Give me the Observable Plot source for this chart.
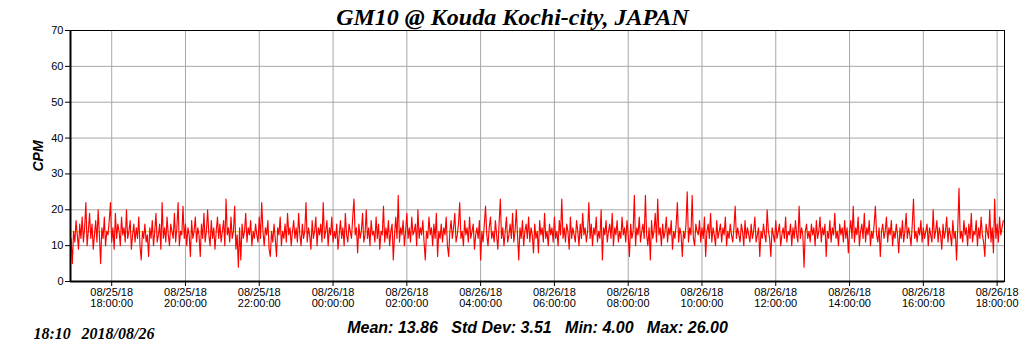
<!DOCTYPE html>
<html>
<head>
<meta charset="utf-8">
<script src="https://cdn.jsdelivr.net/npm/d3@7"></script>
<script src="https://cdn.jsdelivr.net/npm/@observablehq/plot@0.6"></script>
<style>
  body { margin: 0; background: #fff; }
</style>
</head>
<body>
<div id="chart"></div>
<script>
// ---- data ----
const startTime = "2018-08-25T16:54:00Z";   // first sample
const stepMinutes = 2;                        // sample spacing
const cpm = [
  12,5,14,11,17,13,9,16,12,18,11,15,22,10,14,19,12,16,9,13,17,11,20,13,5,15,12,18,10,14,
  13,17,22,11,15,9,19,12,16,14,10,18,13,15,11,20,12,14,17,9,13,16,11,15,12,18,10,6,14,12,
  16,11,13,7,15,12,17,10,14,19,11,13,16,9,22,12,15,11,18,13,10,16,14,12,19,11,15,22,10,14,
  13,21,12,16,10,15,13,7,17,12,14,18,11,15,13,7,16,12,19,11,14,20,13,10,17,12,15,9,14,18,
  12,16,11,14,17,10,23,13,15,11,18,12,14,21,9,13,4,15,6,16,12,14,19,11,15,13,17,10,14,12,
  16,13,11,18,12,22,14,10,15,13,17,9,7,14,11,16,12,7,15,13,18,10,14,12,16,11,19,13,15,10,
  14,17,12,15,11,19,13,10,16,12,14,22,11,15,13,9,17,12,14,18,10,15,13,16,11,22,12,14,17,10,
  15,13,18,11,14,12,16,9,13,17,12,15,10,19,13,11,16,14,12,18,23,13,15,8,16,12,14,19,11,13,
  20,12,15,10,17,13,14,11,18,12,16,9,14,13,21,11,15,12,17,10,14,16,6,13,18,12,24,11,15,13,
  17,10,14,19,12,15,11,18,13,14,16,10,20,12,15,13,17,11,6,14,12,18,13,15,10,16,12,19,7,14,
  12,16,11,15,13,18,10,7,14,17,12,15,19,11,13,16,22,12,14,10,17,13,15,11,18,12,14,16,9,13,
  15,12,17,6,14,11,16,21,13,10,15,18,12,14,11,17,13,9,16,23,12,15,10,14,18,11,13,16,12,19,
  11,14,20,13,6,15,12,17,10,14,16,12,18,11,15,13,8,16,12,14,8,17,13,15,11,19,12,14,10,16,
  13,15,11,18,12,14,10,17,13,23,12,15,11,16,14,9,18,12,15,13,11,17,14,10,16,12,19,13,15,11,
  14,22,12,16,10,15,13,18,11,14,12,20,6,15,13,17,11,14,16,12,19,10,15,13,17,11,14,12,18,13,
  15,11,17,13,7,16,12,14,24,10,15,13,18,11,14,16,12,24,13,10,15,6,17,12,14,19,11,23,13,15,
  10,16,12,14,18,11,15,13,17,9,14,12,16,22,11,15,13,7,14,12,16,25,11,15,13,24,12,10,16,14,
  13,17,11,15,12,18,7,14,16,12,19,11,15,13,10,17,12,14,16,11,15,13,18,10,14,12,16,13,11,15,
  21,12,15,13,11,16,14,10,17,12,15,13,11,16,12,14,18,11,13,15,7,14,12,16,13,11,20,14,12,7,
  15,13,11,17,12,14,16,10,13,15,12,18,11,14,13,16,10,15,12,17,13,11,21,12,15,13,4,14,16,12,
  14,11,16,13,15,10,17,12,14,18,11,15,13,16,7,14,12,17,11,15,13,19,12,14,10,16,13,15,11,17,
  12,15,8,14,17,12,21,11,15,13,18,10,14,16,12,19,11,15,13,17,10,14,12,16,21,13,11,15,7,14,
  16,12,14,18,11,15,13,17,10,14,12,16,13,8,15,12,17,11,14,19,12,15,13,10,16,23,12,14,11,15,
  13,17,11,15,12,14,16,10,15,13,11,20,12,14,17,11,15,13,9,16,12,14,18,11,15,13,10,17,12,14,
  6,15,26,12,14,11,17,13,15,10,16,12,19,11,14,13,17,10,15,12,18,13,11,7,16,14,12,20,11,15,
  8,23,12,16,11,18,13,15,17
];
const domainStart = "2018-08-25T16:53:00Z";
const domainEnd   = "2018-08-26T18:12:00Z";
const tickTimes = [
  "2018-08-25T18:00:00Z","2018-08-25T20:00:00Z","2018-08-25T22:00:00Z",
  "2018-08-26T00:00:00Z","2018-08-26T02:00:00Z","2018-08-26T04:00:00Z",
  "2018-08-26T06:00:00Z","2018-08-26T08:00:00Z","2018-08-26T10:00:00Z",
  "2018-08-26T12:00:00Z","2018-08-26T14:00:00Z","2018-08-26T16:00:00Z",
  "2018-08-26T18:00:00Z"
];
const yTicks = [0, 10, 20, 30, 40, 50, 60, 70];
const titleText = "GM10 @ Kouda Kochi-city, JAPAN";
const yLabel = "CPM";
const stampTime = "18:10";
const stampDate = "2018/08/26";
const statLabels = ["Mean", "Std Dev", "Min", "Max"];
const statValues = [13.86, 3.51, 4.00, 26.00];

// ---- build ----
const t0 = new Date(startTime);
const data = cpm.map((v, i) => ({ t: new Date(+t0 + i * stepMinutes * 60000), v }));
const ticks = tickTimes.map(d => new Date(d));
const fmt = d3.utcFormat("%m/%d/%y\n%H:%M:%S");
const statsText = statLabels.map((l, i) => `${l}: ${statValues[i].toFixed(2)}`).join("\u00a0\u00a0\u00a0");
const serif = "'Liberation Serif', 'Times New Roman', serif";
const sans = "'Liberation Sans', Arial, sans-serif";

const chart = Plot.plot({
  width: 1024,
  height: 351,
  marginTop: 30,
  marginBottom: 70,
  marginLeft: 70,
  marginRight: 20,
  style: { fontFamily: sans, fontSize: "11px", color: "#000", background: "#fff", overflow: "visible" },
  x: {
    type: "utc",
    domain: [new Date(domainStart), new Date(domainEnd)],
    ticks,
    tickFormat: fmt,
    tickSize: 5,
    tickPadding: 2,
    label: null
  },
  y: { domain: [0, 70], ticks: yTicks, tickSize: 5, tickPadding: 2, label: null },
  marks: [
    Plot.ruleX(ticks, { stroke: "#a8a8a8" }),
    Plot.ruleY(yTicks, { stroke: "#a8a8a8" }),
    Plot.ruleY([statValues[0]], { stroke: "#f0c000" }),
    Plot.line(data, { x: "t", y: "v", stroke: "#ff0000", strokeWidth: 1.15 }),
    Plot.frame({ stroke: "#000" }),
    Plot.ruleX([new Date(domainStart)], { stroke: "#000", strokeWidth: 2 }),
    Plot.ruleY([0], { stroke: "#000", strokeWidth: 2 }),
    Plot.text([titleText], { text: d => d, frameAnchor: "top", dx: -25, dy: -13, lineAnchor: "middle", textAnchor: "middle",
      fontFamily: serif, fontSize: 24, fontWeight: "bold", fontStyle: "italic", fill: "#000" }),
    Plot.text([yLabel], { text: d => d, frameAnchor: "left", dx: -32, rotate: -90, lineAnchor: "middle", textAnchor: "middle",
      fontFamily: sans, fontSize: 14, fontWeight: "bold", fontStyle: "italic", fill: "#000" }),
    Plot.text([stampTime], { text: d => d, frameAnchor: "bottom-left", dx: -37, dy: 52, textAnchor: "start", lineAnchor: "middle",
      fontFamily: serif, fontSize: 16, fontWeight: "bold", fontStyle: "italic", fill: "#000" }),
    Plot.text([stampDate], { text: d => d, frameAnchor: "bottom-left", dx: 11, dy: 52, textAnchor: "start", lineAnchor: "middle",
      fontFamily: serif, fontSize: 16, fontWeight: "bold", fontStyle: "italic", fill: "#000" }),
    Plot.text([statsText], { text: d => d, frameAnchor: "bottom", dy: 46, textAnchor: "middle", lineAnchor: "middle",
      fontFamily: sans, fontSize: 16, fontWeight: "bold", fontStyle: "italic", fill: "#000" })
  ]
});
document.getElementById("chart").appendChild(chart);
</script>
</body>
</html>
